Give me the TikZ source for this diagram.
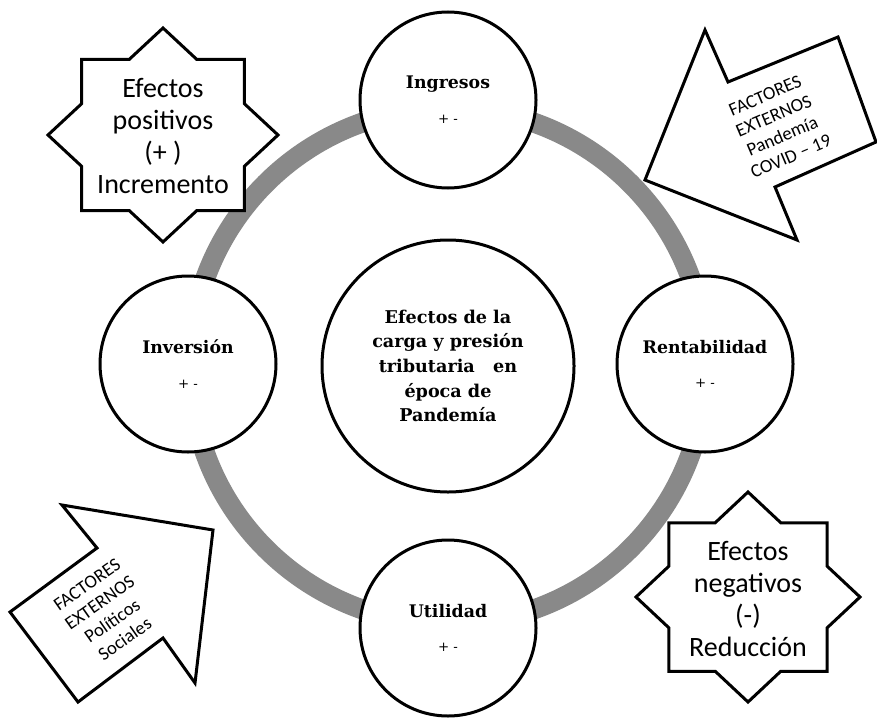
\documentclass[tikz,border=0pt]{standalone}
\usepackage{fontspec}
\setmainfont{DejaVu Serif}
\newfontfamily\calibrifont{Carlito}
\definecolor{ringgray}{RGB}{137,137,137}

\tikzset{every picture/.style={line width=0.75pt}}
\tikzset{
  ringline/.style={draw=ringgray, line width=15pt},
  bubble/.style={circle, draw, fill=white, line width=2.25pt, inner sep=0pt, align=center, font=\bfseries\fontsize{13}{26}\selectfont},
  starbox/.style={draw, fill=white, line width=2.25pt, line join=miter},
  arrowbox/.style={draw, fill=white, line width=2.25pt, line join=miter},
  startext/.style={align=center, font=\calibrifont\fontsize{21}{24}\selectfont},
  arrowtext/.style={align=center, font=\calibrifont\fontsize{14}{16.5}\selectfont}
}
\newcommand{\plusminus}{{\mdseries\fontsize{10}{12}\selectfont + -}}

\begin{document}
\begin{tikzpicture}[x=0.75pt,y=0.75pt,yscale=-1,xscale=1]
\useasboundingbox (0,0) rectangle (877,717);

%Shape: Ring
\draw[ringline] (448,366) circle [radius=258];

%Shape: Arrow (Pandemia)
\draw[arrowbox] (645,180) -- (705,30) -- (728,82) -- (838,37) -- (876,142) -- (775,187) -- (797,240) -- cycle;
%Shape: Arrow (Politicos)
\draw[arrowbox] (213,530) -- (195,683) -- (163,638) -- (78,702) -- (10,612) -- (97,548) -- (62,505) -- cycle;

%Shape: Star (positivos)
\begin{scope}[shift={(163,135)}]
\draw[starbox] (0,107) \foreach \k [evaluate=\k as \ang using {90+22.5*\k}, evaluate=\k as \fac using {1-0.2346*mod(\k,2)}] in {1,...,15} { -- ({115*\fac*cos(\ang)},{107*\fac*sin(\ang)}) } -- cycle;
\end{scope}
%Shape: Star (negativos)
\begin{scope}[shift={(748,597)}]
\draw[starbox] (0,105) \foreach \k [evaluate=\k as \ang using {90+22.5*\k}, evaluate=\k as \fac using {1-0.2346*mod(\k,2)}] in {1,...,15} { -- ({112*\fac*cos(\ang)},{105*\fac*sin(\ang)}) } -- cycle;
\end{scope}

%Shape: Circles
\node[bubble, minimum size=132pt] (ingresos) at (448,100) {Ingresos\\\plusminus};
\node[bubble, minimum size=132pt] (inversion) at (188,364) {Inversión\\\plusminus};
\node[bubble, minimum size=132pt] (rentabilidad) at (705,364) {Rentabilidad\\\plusminus};
\node[bubble, minimum size=132pt] (utilidad) at (448,628) {Utilidad\\\plusminus};
\node[bubble, minimum size=189pt, font=\bfseries\fontsize{13.2}{18.5}\selectfont] (centro) at (448,366) {Efectos de la\\carga y presión\\tributaria\ \ \ en\\época de\\Pandemía};

% Text Node
\node[startext] (positivos) at (163,136) {Efectos\\positivos\\(+ )\\Incremento};
% Text Node
\node[startext] (negativos) at (748,599) {Efectos\\negativos\\(-)\\Reducción};
% Text Node
\node[arrowtext, rotate=23] (pandemia) at (778,126) {FACTORES\\EXTERNOS\\Pandemía\\COVID – 19};
% Text Node
\node[arrowtext, rotate=35] (politicos) at (106,612) {FACTORES\\EXTERNOS\\Políticos\\Sociales};

\end{tikzpicture}
\end{document}
